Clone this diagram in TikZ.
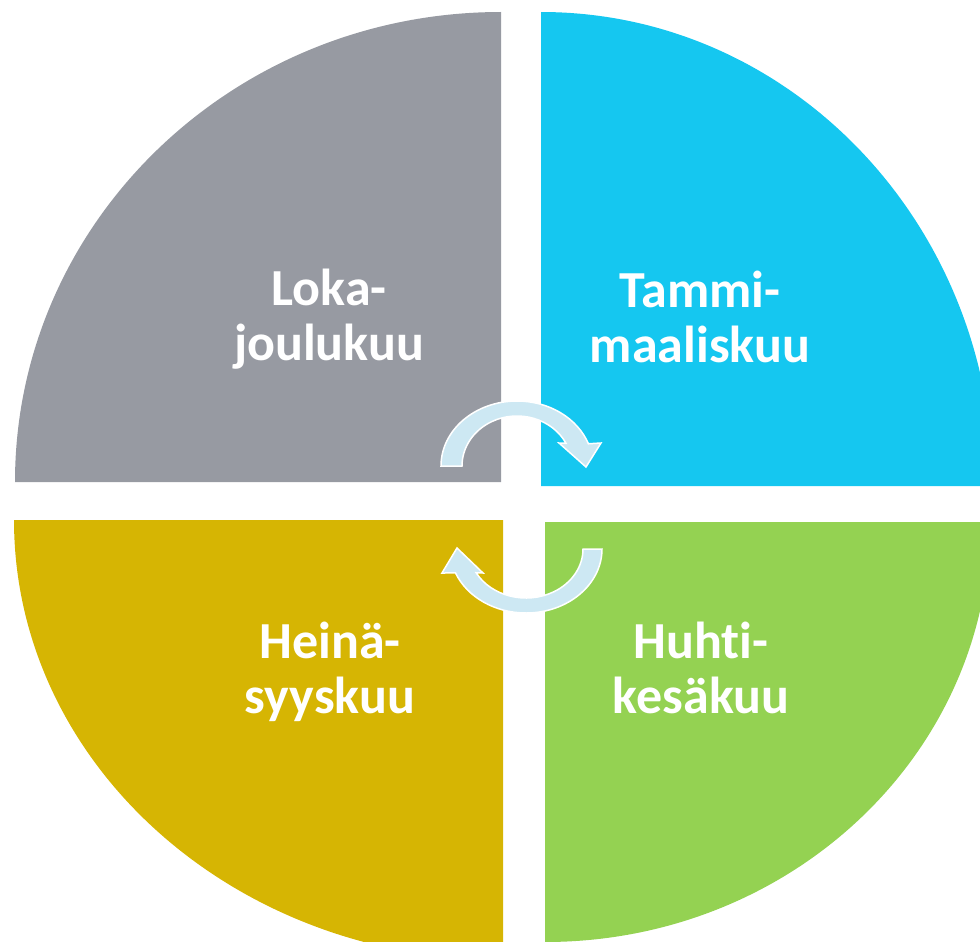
\documentclass[tikz,border=0pt]{standalone}
\usepackage{fontspec}
\setmainfont{Carlito}[Ligatures=NoCommon]
\usetikzlibrary{calc}

\definecolor{harmaa}{RGB}{151,154,162}
\definecolor{sininen}{RGB}{21,199,240}
\definecolor{keltainen}{RGB}{214,181,3}
\definecolor{vihrea}{RGB}{148,210,82}
\definecolor{nuoli}{RGB}{205,232,243}

\tikzset{
	kuukausi/.style={text=white, font=\bfseries\fontsize{52}{55}\selectfont, align=center, inner sep=0pt},
	nuolikaari/.style={fill=nuoli, draw=white, line width=1.5pt, line join=miter},
}

\begin{document}
\begin{tikzpicture}[x=1pt, y=-1pt]
	\useasboundingbox (0,0) rectangle (980,942);
	\clip (0,0) rectangle (980,942);
	% quarters
	\fill[harmaa] (501,482) -- (501,12) arc[start angle=270, end angle=180, x radius=486, y radius=470] -- cycle;
	\fill[sininen] (541,486) -- (541,12) arc[start angle=270, end angle=360, x radius=452, y radius=474] -- cycle;
	\fill[keltainen] (503,520) -- (14,520) arc[start angle=180, end angle=90, x radius=489, y radius=440] -- cycle;
	\fill[vihrea] (545,522) -- (990,522) arc[start angle=0, end angle=90, x radius=445, y radius=420] -- cycle;
	% arrows
	\coordinate (c1) at (517,466);
	\coordinate (c2) at (526,549);
	\draw[nuolikaari] ($(c1)+(180:76 and 65)$) arc[start angle=180, end angle=340, x radius=76, y radius=65]
		-- (601,443) -- (586,467) -- (559,443)
		-- ($(c1)+(333:55 and 50)$) arc[start angle=333, end angle=180, x radius=55, y radius=50] -- cycle;
	\draw[nuolikaari] ($(c2)+(0:76 and 64)$) arc[start angle=0, end angle=158, x radius=76, y radius=64]
		-- (442,573) -- (457,548) -- (483,573)
		-- ($(c2)+(151:57 and 49)$) arc[start angle=151, end angle=0, x radius=57, y radius=49] -- cycle;
	% labels
	\node[kuukausi] (loka) at (329,319) {Loka-\\joulukuu};
	\node[kuukausi] (tammi) at (700,317) {Tammi-\\maaliskuu};
	\node[kuukausi] (heina) at (330,672) {Heinä-\\syyskuu};
	\node[kuukausi] (huhti) at (701,668) {Huhti-\\kesäkuu};
\end{tikzpicture}
\end{document}
